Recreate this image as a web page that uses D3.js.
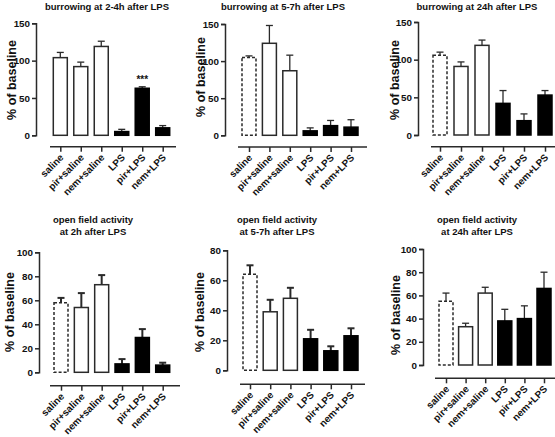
<!DOCTYPE html>
<html><head><meta charset="utf-8">
<script src="https://cdn.jsdelivr.net/npm/d3@7"></script>
<style>
body{margin:0;background:#fff;}
svg{display:block;font-family:"Liberation Sans",Arial,sans-serif;font-weight:bold;}
</style></head><body>
<svg id="chart" width="555" height="437"></svg>
<script>
// ---- data ----
const categories = ["saline","pir+saline","nem+saline","LPS","pir+LPS","nem+LPS"];
const burrow24Means = [104, 92, 119, 5, 63, 10];
const burrow24Errs  = [111, 98, 126, 8, 65, 13];
const burrow57Means = [105, 124, 87, 6, 13, 11];
const burrow57Errs  = [107, 148, 108, 10, 20, 21];
const burrow24hMeans = [106, 91, 119, 42, 19, 53];
const burrow24hErrs  = [110, 97, 126, 59, 28, 59];
const of2Means = [58, 54, 73, 7, 29, 6];
const of2Errs  = [62, 66, 81, 11, 36, 8];
const of57Means = [64, 39, 48, 21, 13, 23];
const of57Errs  = [70, 47, 55, 27, 16, 28];
const of24Means = [55, 33, 62, 38, 40, 66];
const of24Errs  = [62, 36, 67, 48, 51, 80];
const burrowTicks = [0, 50, 100, 150];
const of100Ticks = [0, 20, 40, 60, 80, 100];
const of80Ticks = [0, 20, 40, 60, 80];
const yLabel = "% of baseline";

const panels = [
  {title:["burrowing at 2-4h after LPS"], means:burrow24Means, errs:burrow24Errs, ticks:burrowTicks,
   tx:107, ty:10, ax:36, yTop:23.3, y0:135.3, xay:146.7, xs:50, xe:176, t0:60.3, t1:162.7, lx:12, ly:80, dashSaline:false, star:4, thick:1.3},
  {title:["burrowing at 5-7h after LPS"], means:burrow57Means, errs:burrow57Errs, ticks:burrowTicks,
   tx:283, ty:10, ax:225, yTop:24, y0:135.3, xay:147, xs:238, xe:367, t0:249, t1:351, lx:201, ly:77, dashSaline:true, star:-1, thick:1.3},
  {title:["burrowing at 24h after LPS"], means:burrow24hMeans, errs:burrow24hErrs, ticks:burrowTicks,
   tx:477, ty:10, ax:418, yTop:22, y0:135, xay:146.7, xs:431, xe:555, t0:440, t1:545, lx:395, ly:80, dashSaline:true, star:-1, thick:1.3},
  {title:["open field activity","at 2h after LPS"], means:of2Means, errs:of2Errs, ticks:of100Ticks,
   tx:93, ty:223, ax:39, yTop:252.3, y0:372.3, xay:385.7, xs:50, xe:180, t0:61, t1:162.7, lx:10, ly:312, dashSaline:true, star:-1, thick:2},
  {title:["open field activity","at 5-7h after LPS"], means:of57Means, errs:of57Errs, ticks:of80Ticks,
   tx:277, ty:223, ax:227, yTop:250.3, y0:370.3, xay:384.3, xs:240, xe:365, t0:250, t1:351, lx:200, ly:312, dashSaline:true, star:-1, thick:2},
  {title:["open field activity","at 24h after LPS"], means:of24Means, errs:of24Errs, ticks:of100Ticks,
   tx:477, ty:223, ax:423, yTop:249, y0:365, xay:378.3, xs:435, xe:555, t0:446, t1:544, lx:396, ly:315, dashSaline:true, star:-1, thick:1.3}
];

const svg = d3.select("#chart");
const ink = "#2a2a2a";

panels.forEach(p => {
  const g = svg.append("g");
  const ymax = p.ticks[p.ticks.length-1];
  const y = d3.scaleLinear().domain([0, ymax]).range([p.y0, p.yTop]);
  const x = d3.scalePoint().domain(categories).range([p.t0, p.t1]);
  const bw = 14;

  // title
  const t = g.append("text").attr("x", p.tx).attr("y", p.ty).attr("text-anchor","middle")
    .attr("font-size", 9.5).attr("fill", "#111");
  p.title.forEach((line,i)=> t.append("tspan").attr("x", p.tx).attr("dy", i===0?0:12).text(line));

  // y axis
  const ya = g.append("g").attr("transform", `translate(${p.ax},0)`)
    .call(d3.axisLeft(y).tickValues(p.ticks).tickSize(4).tickPadding(2).tickFormat(d3.format("d")));
  ya.select(".domain").attr("stroke", ink).attr("stroke-width", 1.5);
  ya.selectAll(".tick line").attr("stroke", ink).attr("stroke-width", 1.5);
  ya.selectAll("text").attr("font-size", 9.8).attr("font-weight","bold").attr("font-family","Liberation Sans, Arial, sans-serif").attr("fill","#111");

  // y label
  g.append("text").attr("transform", `translate(${p.lx},${p.ly}) rotate(-90)`)
    .attr("text-anchor","middle").attr("dy","0.35em").attr("font-size", 12.5).attr("fill","#111").text(yLabel);

  // x axis (separate line)
  g.append("line").attr("x1", p.xs).attr("x2", p.xe).attr("y1", p.xay).attr("y2", p.xay)
    .attr("stroke", ink).attr("stroke-width", 1.5);
  const xa = g.append("g").attr("transform", `translate(0,${p.xay})`)
    .call(d3.axisBottom(x).tickSize(5).tickSizeOuter(0));
  xa.select(".domain").remove();
  xa.selectAll(".tick line").attr("stroke", ink).attr("stroke-width", 1.5);
  xa.selectAll("text").attr("font-size", 9.8).attr("font-weight","bold").attr("font-family","Liberation Sans, Arial, sans-serif").attr("fill","#111")
    .attr("text-anchor","end").attr("x",0).attr("y",0).attr("dx",0).attr("dy","0.35em")
    .attr("transform","translate(1,9) rotate(-45)");

  // bars
  categories.forEach((c,i) => {
    const cx = x(c);
    const isLPS = i >= 3;
    const v = p.means[i], e = p.errs[i];
    // error bar
    g.append("line").attr("x1", cx).attr("x2", cx).attr("y1", y(v)).attr("y2", y(e))
      .attr("stroke", ink).attr("stroke-width", p.thick);
    g.append("line").attr("x1", cx-3.5).attr("x2", cx+3.5).attr("y1", y(e)).attr("y2", y(e))
      .attr("stroke", ink).attr("stroke-width", p.thick);
    const r = g.append("rect").attr("x", cx - bw/2).attr("y", y(v)).attr("width", bw)
      .attr("height", y(0) - y(v))
      .attr("fill", isLPS ? "#000" : "#fff")
      .attr("stroke", isLPS ? "#000" : ink).attr("stroke-width", 1.5);
    if (i === 0 && p.dashSaline) r.attr("stroke-dasharray", "3,2");
    if (i === p.star) {
      g.append("text").attr("x", cx).attr("y", y(e) - 4).attr("text-anchor","middle")
        .attr("font-size", 10).attr("fill","#111").text("***");
    }
  });
});
</script>
</body></html>
